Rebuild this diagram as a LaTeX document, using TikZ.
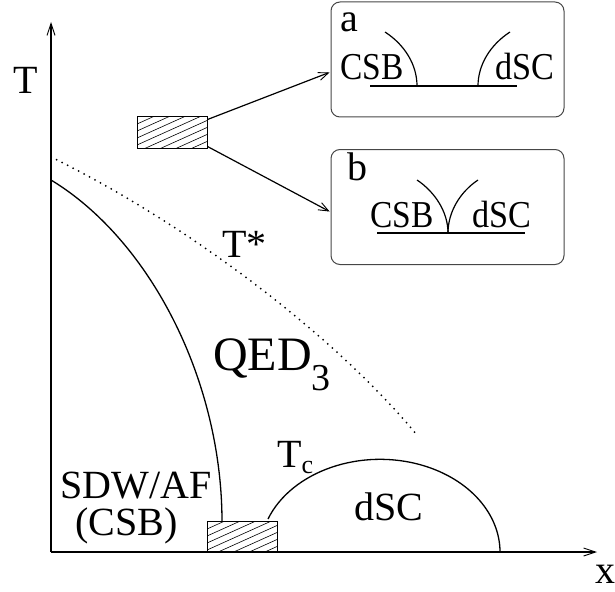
\documentclass[tikz,border=0pt]{standalone}
\usepackage{fontspec}
\usepackage{graphicx}
\setmainfont{Liberation Serif}
\usetikzlibrary{arrows.meta}
\definecolor{boxgray}{RGB}{70,70,70}
\begin{document}
\begin{tikzpicture}[x=1pt,y=-1pt,
  lbl/.style={anchor=base west,inner sep=0pt,font=\fontsize{40}{44}\selectfont},
  boxlbl/.style={anchor=base west,inner sep=0pt,font=\fontsize{38}{42}\selectfont},
  axis/.style={line width=1.3pt,-{Straight Barb[length=12pt,width=8pt,line width=0.9pt]}},
  curve/.style={line width=1.3pt},
  dotline/.style={line width=2pt,line cap=round,dash pattern=on 0pt off 6.2pt},
  hatchbox/.style={draw,line width=1pt,inner sep=0pt,minimum width=70pt,minimum height=31pt},
  hatchline/.style={line width=0.6pt},
  infobox/.style={draw=boxgray,line width=1pt,rounded corners=9pt,inner sep=0pt,minimum width=233pt,minimum height=115pt},
  conn/.style={line width=1.2pt,-{Straight Barb[length=10pt,width=8pt,line width=0.9pt]}},
  inner/.style={line width=1.2pt}]
\useasboundingbox (0,0) rectangle (615,591);

% axes
\coordinate (origin) at (51,552);
\coordinate (ytip) at (51,22);
\coordinate (xtip) at (597,552);
\draw[axis] (origin) -- (ytip);
\draw[axis] (origin) -- (xtip);
\node[lbl] (Tlabel) at (13,94) {T};
\node[lbl] (xlabel) at (595,583) {x};

% AF boundary
\draw[curve] (51,180) .. controls (150,240) and (222,380) .. (222,522);
% T* crossover
\draw[dotline] (51,157) .. controls (180,220) and (330,330) .. (417,435);
% dSC dome
\draw[curve] (268,519) arc[start angle=-159,end angle=0,x radius=120,y radius=93];

% hatched boxes
\node[hatchbox] (h1) at (172,132.5) {};
\begin{scope}
  \clip (137,117) rectangle (207,148);
  \foreach \i in {0,...,11} \draw[hatchline] (137,{117+7*\i}) -- ++(80,-36);
\end{scope}
\node[hatchbox] (h2) at (242,537) {};
\begin{scope}
  \clip (207,522) rectangle (277,552);
  \foreach \i in {0,...,11} \draw[hatchline] (207,{522+7*\i}) -- ++(80,-36);
\end{scope}

% labels
\node[lbl] (tstar) at (222,257) {T*};
\node[anchor=base west,inner sep=0pt,font=\fontsize{48}{52}\selectfont] (qed) at (213,370) {QED\raisebox{-20pt}{\fontsize{38}{40}\selectfont 3}};
\node[lbl] (sdw) at (60,498) {SDW/AF};
\node[lbl] (csb) at (75,535) {(CSB)};
\node[lbl] (tc) at (277,467) {T\raisebox{-6pt}{\fontsize{26}{28}\selectfont c}};
\node[lbl] (dsc) at (354,520) {dSC};

% inset boxes
\node[infobox] (boxa) at (447.5,59.5) {};
\node[infobox] (boxb) at (447.5,207) {};
\draw[conn,shorten >=1pt] ([yshift=-3pt]h1.north east) -- ([yshift=-12.5pt]boxa.west);
\draw[conn,shorten >=1pt] ([yshift=2pt]h1.south east) -- ([yshift=-5pt]boxb.west);

% box a contents
\node[lbl] (alabel) at (340,32) {a};
\node[boxlbl] (acsb) at (340,80) {\scalebox{0.88}[1]{CSB}};
\node[boxlbl] (adsc) at (495,80) {\scalebox{0.9}[1]{dSC}};
\draw[inner] (370,86) -- (517,86);
\draw[inner] (385,32) .. controls (405,45) and (417,65) .. (417,86);
\draw[inner] (510,32) .. controls (490,45) and (478,65) .. (478,86);

% box b contents
\node[lbl] (blabel) at (347,180) {b};
\node[boxlbl] (bcsb) at (370,227) {\scalebox{0.88}[1]{CSB}};
\node[boxlbl] (bdsc) at (472,227) {\scalebox{0.9}[1]{dSC}};
\draw[inner] (377,233) -- (525,233);
\draw[inner] (417,180) .. controls (435,192) and (448,212) .. (448,233);
\draw[inner] (478,180) .. controls (460,192) and (448,212) .. (448,233);
\end{tikzpicture}
\end{document}
